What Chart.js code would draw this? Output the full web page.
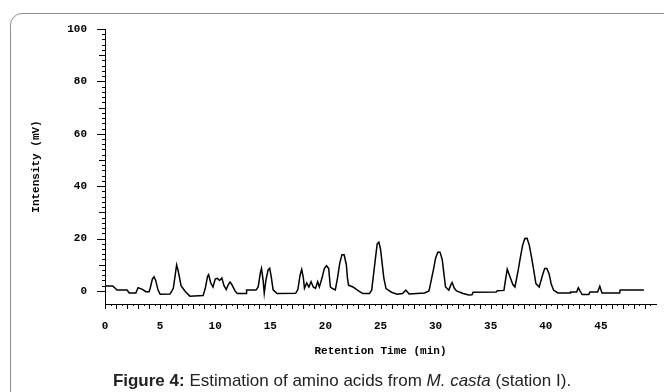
<!DOCTYPE html>
<html>
<head>
<meta charset="utf-8">
<script src="https://cdn.jsdelivr.net/npm/chart.js@4.4.0/dist/chart.umd.min.js"></script>
<style>
  html, body { margin: 0; padding: 0; background: #fff; overflow: hidden; }
  #wrap { position: relative; width: 664px; height: 392px; }
  #frame {
    position: absolute; left: 10px; top: 13px; width: 700px; height: 420px;
    border: 1.5px solid #8f8f8f; border-radius: 12px; box-sizing: border-box;
  }
  #chart { position: absolute; left: 0; top: 0; }
  #caption {
    position: absolute; left: 10px; top: 371px; width: 664px; text-align: center;
    font-family: "Liberation Sans", Arial, sans-serif; font-size: 17px; line-height: 20px; color: #222;
  }
</style>
</head>
<body>
<div id="wrap">
  <div id="frame"></div>
  <canvas id="chart" width="664" height="392"></canvas>
  <div id="caption"><b>Figure 4:</b> Estimation of amino acids from <i>M. casta</i> (station I).</div>
</div>
<script>
  'use strict';

  // retention time (min) and detector signal (mV)
  var retTime = [0, 0.7, 1.1, 2.0, 2.2, 2.8, 3.0, 3.4, 3.7, 4.0, 4.1, 4.3, 4.45, 4.6, 4.8, 5.0,
    5.9, 6.2, 6.4, 6.5, 6.65, 6.9, 7.3, 7.7, 8.9, 9.1, 9.3, 9.4, 9.6, 9.8, 10.0, 10.2, 10.4, 10.6,
    10.8, 11.0, 11.2, 11.35, 11.5, 11.8, 12.0, 12.8, 12.85, 13.7, 13.9, 14.1, 14.2, 14.35, 14.45,
    14.6, 14.8, 14.95, 15.1, 15.25, 15.6, 17.3, 17.5, 17.7, 17.85, 18.0, 18.1, 18.3, 18.5, 18.7,
    18.9, 19.1, 19.3, 19.45, 19.7, 19.9, 20.1, 20.3, 20.45, 20.6, 20.9, 21.1, 21.3, 21.5, 21.7,
    21.9, 22.0, 22.1, 22.5, 23.0, 23.4, 24.0, 24.2, 24.5, 24.7, 24.85, 25.0, 25.3, 25.5, 26.0,
    26.5, 27.0, 27.3, 27.6, 29.0, 29.4, 29.8, 30.0, 30.2, 30.4, 30.6, 30.8, 30.9, 31.2, 31.4,
    31.5, 31.7, 31.9, 32.5, 33.0, 33.3, 33.4, 35.5, 35.6, 36.2, 36.3, 36.5, 36.7, 37.0, 37.2,
    37.5, 37.7, 37.9, 38.1, 38.3, 38.5, 38.7, 38.9, 39.1, 39.4, 39.7, 39.9, 40.1, 40.3, 40.5,
    40.7, 41.1, 42.2, 42.25, 42.8, 42.95, 43.1, 43.3, 43.9, 44.0, 44.7, 44.9, 45.1, 46.7, 46.75,
    48.9];
  var intensity = [1.9, 1.9, 0.3, 0.3, -0.8, -0.8, 1.2, 0.6, -0.3, -0.3, 1.0, 4.5, 5.4, 4.0, 0.5, -1.3,
    -1.2, 1.0, 7.0, 9.9, 7.5, 2.0, -0.3, -2.0, -1.8, 1.0, 5.5, 6.2, 3.0, 1.5, 4.5, 4.8, 4.0, 4.9,
    2.0, 0.5, 2.5, 3.4, 2.5, 0.0, -1.0, -1.0, 0.3, 0.3, 1.5, 7.0, 8.6, 4.0, -0.9,
    4.0, 8.0, 8.6, 5.0, 0.5, -1.0, -0.9, 0.5, 6.0, 8.2, 5.0, 1.0, 3.0, 1.5, 3.5,
    1.5, 1.0, 3.5, 1.5, 5.0, 8.5, 9.6, 8.5, 1.5, 1.0, 0.4, 5.0, 10.5, 13.8, 13.8,
    10.0, 5.0, 2.2, 1.5, 0.0, -1.0, -1.0, 0.3, 11.0, 18.0, 18.6, 16.0, 5.0, 0.9, -0.5,
    -1.3, -1.0, 0.3, -1.2, -0.8, 0.0, 8.0, 12.5, 14.8, 14.8, 12.0, 5.0, 1.5, 0.3, 2.5,
    3.2, 1.0, 0.0, -1.0, -1.6, -1.5, -0.5, -0.4, 0.1, 0.2, 3.0, 8.3, 6.0, 2.5, 1.5,
    8.0, 13.0, 17.5, 20.0, 20.1, 17.5, 13.0, 8.0, 2.8, 1.5, 6.0, 8.6, 8.6, 6.5, 2.5,
    0.3, -0.8, -0.8, -0.4, -0.4, 1.2, 0.0, -1.4, -1.4, -0.4, -0.4, 1.8, -0.8, -0.8, 0.3,
    0.3];

  var yTickLabels = [0, 20, 40, 60, 80, 100];
  var xTickLabels = [0, 5, 10, 15, 20, 25, 30, 35, 40, 45];

  var points = retTime.map(function(t, i) { return {x: t, y: intensity[i]}; });
  var monoFont = {family: "'Liberation Mono', 'DejaVu Sans Mono', monospace", size: 11, weight: 'bold'};

  // small tick marks drawn along both axes from the scales
  var axisTicks = {
    id: 'axisTicks',
    afterDraw: function(chart) {
      var ctx = chart.ctx, xs = chart.scales.x, ys = chart.scales.y;
      var x0 = xs.getPixelForValue(0), y0 = ys.getPixelForValue(-5);
      ctx.save();
      ctx.strokeStyle = '#000';
      ctx.lineWidth = 1;
      ctx.beginPath();
      for (var v = 0; v <= 100; v += 2) {
        var py = Math.round(ys.getPixelForValue(v)) + 0.5;
        var len = v % 20 === 0 ? 8 : (v % 10 === 0 ? 6 : 3);
        ctx.moveTo(x0, py); ctx.lineTo(x0 - len, py);
      }
      for (var t = 0; t <= 49.5; t += 0.5) {
        var px = Math.round(xs.getPixelForValue(t)) + 0.5;
        var l = t % 1 === 0 ? 5 : 2;
        ctx.moveTo(px, y0); ctx.lineTo(px, y0 + l);
      }
      ctx.stroke();
      ctx.restore();
    }
  };

  new Chart(document.getElementById('chart').getContext('2d'), {
    type: 'line',
    data: {
      datasets: [{
        data: points,
        borderColor: '#000',
        borderWidth: 1.5,
        pointRadius: 0,
        tension: 0,
        fill: false
      }]
    },
    options: {
      responsive: false,
      animation: false,
      layout: {padding: {left: 0, right: 8, top: 29, bottom: 0}},
      plugins: {legend: {display: false}, tooltip: {enabled: false}},
      scales: {
        x: {
          type: 'linear',
          min: 0,
          max: 50,
          afterBuildTicks: function(scale) {
            scale.ticks = xTickLabels.map(function(v) { return {value: v}; });
          },
          afterFit: function(scale) { scale.height = 88; },
          grid: {display: false, drawTicks: false},
          border: {display: true, color: '#000', width: 1},
          ticks: {color: '#000', font: monoFont, padding: 16, maxRotation: 0, autoSkip: false},
          title: {display: true, text: 'Retention Time (min)', color: '#000', font: monoFont, padding: {top: 0, bottom: 34}}
        },
        y: {
          min: -5,
          max: 100,
          afterBuildTicks: function(scale) {
            scale.ticks = yTickLabels.map(function(v) { return {value: v}; });
          },
          afterFit: function(scale) { scale.width = 105; },
          grid: {display: false, drawTicks: false},
          border: {display: true, color: '#000', width: 1},
          ticks: {color: '#000', font: monoFont, padding: 18},
          title: {display: true, text: 'Intensity (mV)', color: '#000', font: monoFont, padding: {top: 30, bottom: 0}}
        }
      }
    },
    plugins: [axisTicks]
  });
</script>
</body>
</html>
